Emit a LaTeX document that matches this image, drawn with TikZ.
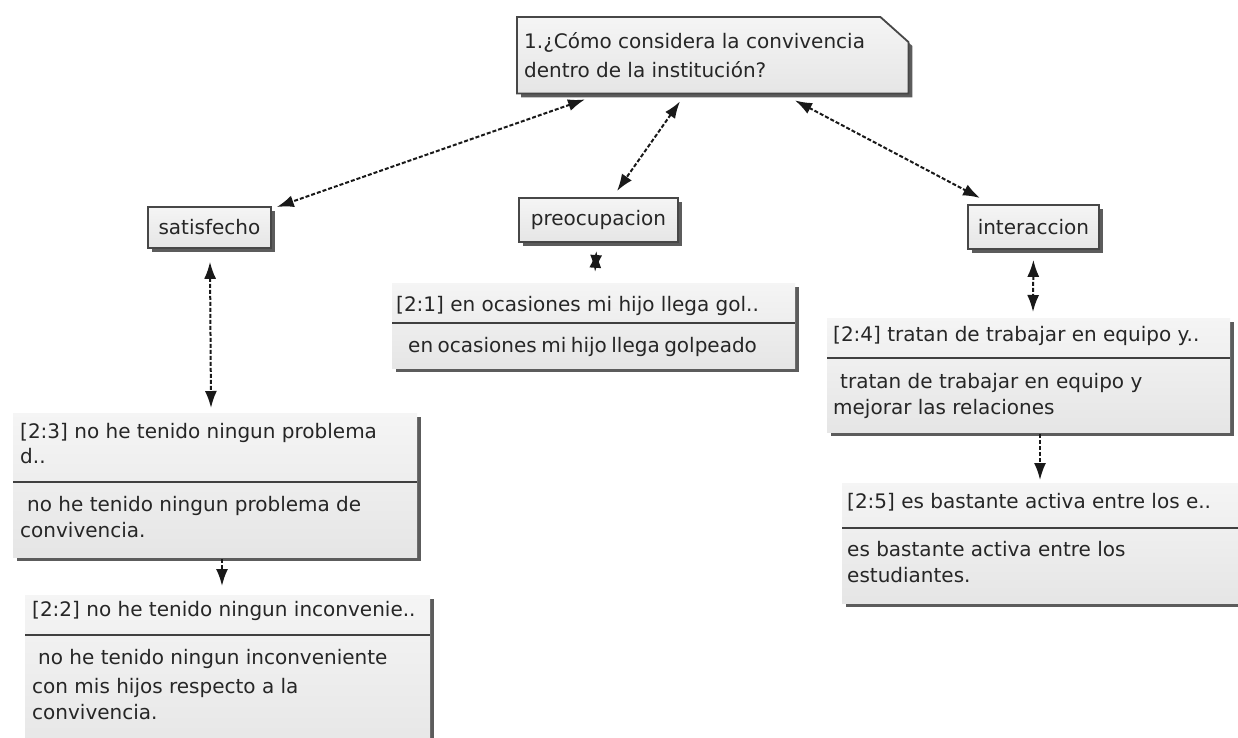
\documentclass[tikz,border=0pt]{standalone}
\usepackage{fontspec}
\setmainfont{DejaVu Sans}
\usetikzlibrary{arrows.meta,shadows,calc}
\begin{document}
\begin{tikzpicture}[x=1pt,y=-1pt,
  look/.style={top color=black!4, bottom color=black!10,
    drop shadow={shadow xshift=4pt, shadow yshift=-4pt, fill=black!75, opacity=0.85}},
  concept/.style={look, draw=black!72, line width=1.8pt, anchor=north west, inner sep=0pt,
    font=\fontsize{20}{24}\selectfont, text=black!85},
  quotebox/.style={look, anchor=north west, inner sep=0pt},
  frame/.style={anchor=north west, inner sep=0pt},
  txt/.style={anchor=base west, inner sep=0pt, font=\fontsize{20}{24}\selectfont, text=black!85},
  sepline/.style={line width=1.8pt, black!75},
  link/.style={dash pattern=on 4pt off 2pt, line width=2pt, black!90, {Latex[length=17pt,width=12pt]}-{Latex[length=17pt,width=12pt]}},
  flow/.style={dash pattern=on 4pt off 2pt, line width=2pt, black!90, -{Latex[length=17pt,width=12pt]}}
]
\useasboundingbox[fill=white] (0,0) rectangle (1238,737);

% question box (notched corner)
\node[frame, minimum width=391pt, minimum height=76pt] (Q) at (517,17) {};
\path[look, draw=black!72, line width=1.8pt]
  (Q.north west) -- ($(Q.north east)+(-28,0)$) -- ($(Q.north east)+(0,25)$)
  -- (Q.south east) -- (Q.south west) -- cycle;
\node[txt] (Qt1) at (524,48) {1.¿Cómo considera la convivencia};
\node[txt] (Qt2) at (524,77) {dentro de la institución?};

% codes
\node[concept, minimum width=123pt, minimum height=41pt] (sat) at (147,206) {satisfecho};
\node[concept, minimum width=159pt, minimum height=44pt] (pre) at (518,197) {preocupacion};
\node[concept, minimum width=131pt, minimum height=44pt] (int) at (967,204) {interaccion};

% quotation boxes
\node[quotebox, minimum width=403pt, minimum height=85pt] (q21) at (392,283) {};
\draw[sepline] ($(q21.north west)+(0,40)$) -- ($(q21.north east)+(0,40)$);
\node[txt] (q21a) at (396,311) {[2:1] en ocasiones mi hijo llega gol..};
\node[txt] (q21b) at (408,352) {\spaceskip=4.5pt en ocasiones mi hijo llega golpeado};

\node[quotebox, minimum width=403pt, minimum height=114pt] (q24) at (827,318) {};
\draw[sepline] ($(q24.north west)+(0,40)$) -- ($(q24.north east)+(0,40)$);
\node[txt] (q24a) at (833,341) {[2:4] tratan de trabajar en equipo y..};
\node[txt] (q24b) at (840,388) {tratan de trabajar en equipo y};
\node[txt] (q24c) at (833,414) {mejorar las relaciones};

\node[quotebox, minimum width=410pt, minimum height=120pt] (q25) at (842,483) {};
\draw[sepline] ($(q25.north west)+(0,45)$) -- ($(q25.north east)+(0,45)$);
\node[txt] (q25a) at (847,508) {[2:5] es bastante activa entre los e..};
\node[txt] (q25b) at (847,556) {es bastante activa entre los};
\node[txt] (q25c) at (847,582) {estudiantes.};

\node[quotebox, minimum width=404pt, minimum height=144pt] (q23) at (13,413) {};
\draw[sepline] ($(q23.north west)+(0,69)$) -- ($(q23.north east)+(0,69)$);
\node[txt] (q23a) at (20,438) {[2:3] no he tenido ningun problema};
\node[txt] (q23b) at (20,463) {d..};
\node[txt] (q23c) at (27,511) {no he tenido ningun problema de};
\node[txt] (q23d) at (20,537) {convivencia.};

\node[quotebox, minimum width=405pt, minimum height=165pt] (q22) at (25,595) {};
\draw[sepline] ($(q22.north west)+(0,40)$) -- ($(q22.north east)+(0,40)$);
\node[txt] (q22a) at (32,616) {[2:2] no he tenido ningun inconvenie..};
\node[txt] (q22b) at (38,664) {no he tenido ningun inconveniente};
\node[txt] (q22c) at (32,693) {con mis hijos respecto a la};
\node[txt] (q22d) at (32,719) {convivencia.};

% connectors
\draw[link] ($(Q.south west)+(68,6)$) -- ($(sat.north east)+(5,1)$);
\draw[link] ($(Q.south west)+(163,8)$) -- ($(pre.north west)+(99,-6)$);
\draw[link] ($(Q.south west)+(278,7)$) -- ($(int.north west)+(13,-6)$);
\draw[link] ($(sat.south west)+(63,13)$) -- ($(q23.north west)+(198,-5)$);
\draw[link] ($(pre.south)+(-2,8)$) -- ($(q21.north west)+(203,-11)$);
\draw[link] ($(int.south)+(0,10)$) -- ($(q24.north west)+(206,-6)$);
\draw[flow] ($(q24.south west)+(213,2)$) -- ($(q25.north west)+(198,-3)$);
\draw[flow] ($(q23.south west)+(209,2)$) -- ($(q22.north west)+(197,-9)$);
\end{tikzpicture}
\end{document}
